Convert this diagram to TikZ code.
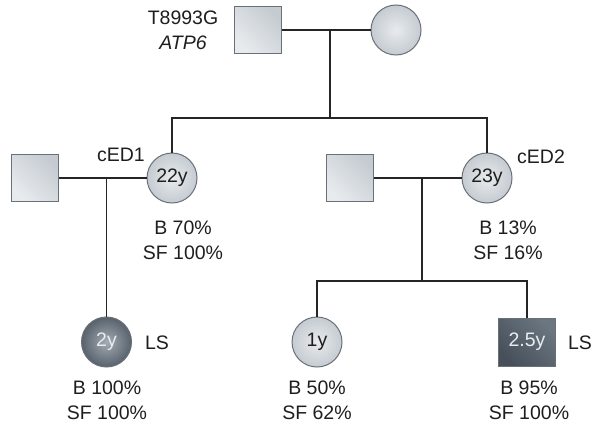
\documentclass[tikz,border=0pt]{standalone}
\usepackage{fontspec}
\setmainfont{Liberation Sans}
\usetikzlibrary{calc}
\definecolor{edgeC}{HTML}{6A7078}
\definecolor{lineC}{HTML}{252525}
\definecolor{lightA}{HTML}{E8EBEE}
\definecolor{lightB}{HTML}{C5CBD1}
\definecolor{darkA}{HTML}{A3ABB3}
\definecolor{darkB}{HTML}{58626C}
\definecolor{sqA}{HTML}{47505A}
\definecolor{sqB}{HTML}{6B7680}
\definecolor{txtW}{HTML}{E8ECEF}
\definecolor{txtC}{HTML}{1E1E1E}
\begin{document}
\begin{tikzpicture}[x=1pt,y=-1pt,
  male/.style={draw=edgeC, line width=1pt, minimum width=47pt, minimum height=47pt, inner sep=0pt,
    top color=lightA, bottom color=lightB, shading angle=135},
  female/.style={circle, draw=edgeC, line width=1pt, minimum size=50pt, inner sep=0pt,
    inner color=lightA, outer color=lightB},
  affcircle/.style={circle, draw=edgeC, line width=1pt, minimum size=50pt, inner sep=0pt,
    inner color=darkA, outer color=darkB, text=txtW},
  affsquare/.style={draw=edgeC, line width=1pt, minimum width=57pt, minimum height=48pt, inner sep=0pt,
    top color=sqA, bottom color=sqB, shading angle=135, text=txtW},
  lbl/.style={inner sep=0pt, align=center},
  conn/.style={draw=lineC, line width=1.2pt}
]
\useasboundingbox (0,0) rectangle (593,425);
\tikzset{every node/.append style={font=\fontsize{19.5}{25}\selectfont, text=txtC}}

% generation I
\node[male] (f) at (258,30) {};
\node[female] (m) at (396,30) {};
\node[lbl] (mut) at (183,30) {T8993G\\\textit{ATP6}};

% generation II
\node[male] (h1) at (35,178) {};
\node[female] (d1) at (172,178) {22y};
\node[lbl] (ced1) at (121,155) {cED1};
\node[lbl] (d1t) at (183,240) {B 70\%\\SF 100\%};

\node[male] (h2) at (350,178) {};
\node[female] (d2) at (487,178) {23y};
\node[lbl] (ced2) at (541,157) {cED2};
\node[lbl] (d2t) at (508,240) {B 13\%\\SF 16\%};

% generation III
\node[affcircle] (c1) at (106.5,342) {2y};
\node[lbl] (ls1) at (157,343) {LS};
\node[lbl] (c1t) at (107,400) {B 100\%\\SF 100\%};

\node[female] (c2) at (317,342) {1y};
\node[lbl] (c2t) at (317,400) {B 50\%\\SF 62\%};

\node[affsquare] (c3) at (527,342) {2.5y};
\node[lbl] (ls3) at (580,343) {LS};
\node[lbl] (c3t) at (529,400) {B 95\%\\SF 100\%};

% connectors
\coordinate (j0) at (330,30);
\coordinate (s0) at (330,118);
\coordinate (j1) at (106.5,178);
\coordinate (j2) at (422,178);
\coordinate (s2) at (422,281);

\draw[conn] (f.east) -- (m.west);
\draw[conn] (j0) -- (s0);
\draw[conn] (d1.north) -- (d1.north |- s0) -- (d2.north |- s0) -- (d2.north);

\draw[conn] (h1.east) -- (d1.west);
\draw[conn] (j1) -- (c1.north);

\draw[conn] (h2.east) -- (d2.west);
\draw[conn] (j2) -- (s2);
\draw[conn] (c2.north) -- (c2.north |- s2) -- (c3.north |- s2) -- (c3.north);
\end{tikzpicture}
\end{document}
